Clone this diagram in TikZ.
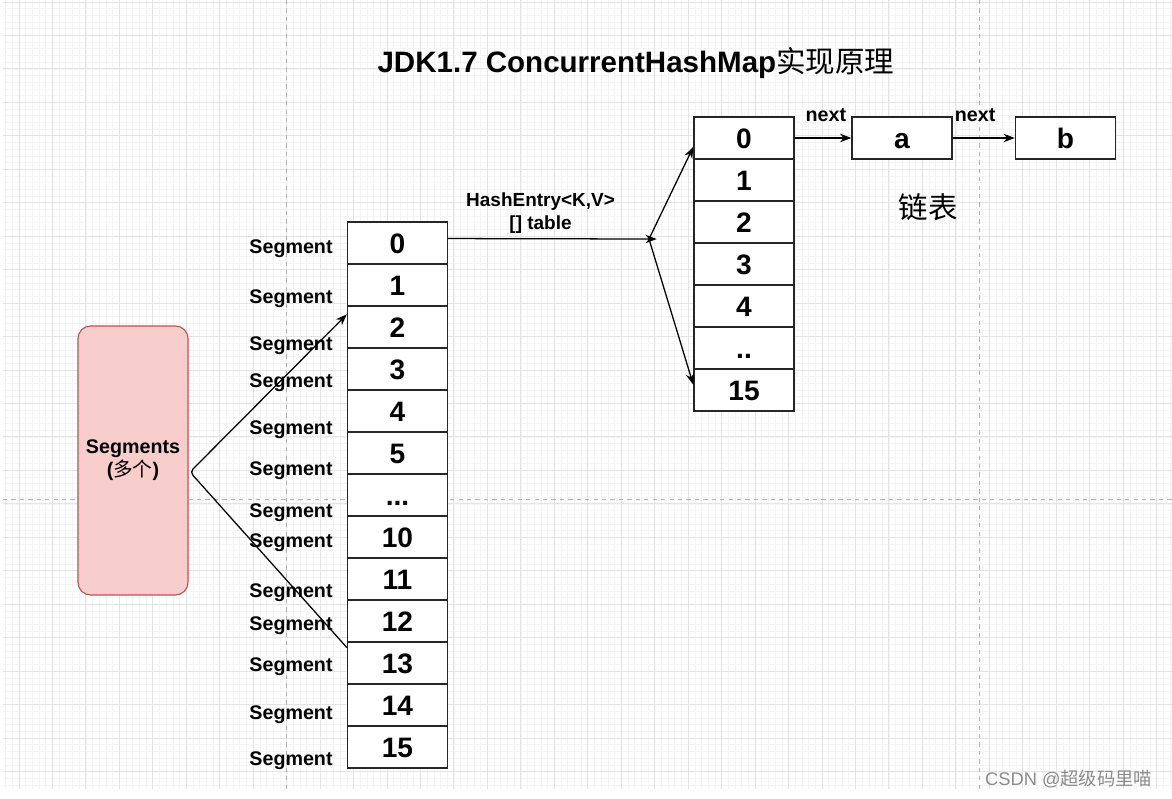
\documentclass[tikz,border=0pt]{standalone}
\usepackage{fontspec}
\setmainfont{Liberation Sans}
\newfontfamily\cjk{Noto Sans CJK SC}
\usetikzlibrary{arrows.meta}
\definecolor{segfill}{HTML}{F8CECC}
\definecolor{segline}{HTML}{B85450}
\definecolor{gridmajor}{HTML}{E4E4E4}
\definecolor{gridminor}{HTML}{F4F4F4}
\newcommand{\segdots}{...}
\newcommand{\entrydots}{..}
\tikzset{
  cell/.style={draw=black!85, line width=1pt, fill=white, minimum width=2.5cm,
    minimum height=1.05cm, inner sep=0pt, text height=14.3pt, text depth=0pt,
    font=\bfseries\fontsize{20}{20}\selectfont},
  seglabel/.style={font=\bfseries\fontsize{14}{14}\selectfont},
  nextlabel/.style={font=\bfseries\fontsize{14}{14}\selectfont, inner sep=0pt, above=11pt},
  conn/.style={->, line width=0.9pt},
}

\begin{document}
\begin{tikzpicture}[x=0.025cm, y=-0.025cm, >={Stealth[length=8pt,width=6pt]}]
\useasboundingbox (0,0) rectangle (1172,799);
\fill[white] (0,0) rectangle (1172,799);
% background grid
\foreach \k in {-2,...,172}
  \draw[gridminor, line width=0.5pt] ({19+\k*6.692},0) -- ({19+\k*6.692},789);
\foreach \k in {0,...,117}
  \draw[gridminor, line width=0.5pt] (3,{2+\k*6.692}) -- (1172,{2+\k*6.692});
\foreach \k in {0,...,34}
  \draw[gridmajor, line width=0.7pt] ({19+\k*33.46},0) -- ({19+\k*33.46},789);
\foreach \k in {0,...,23}
  \draw[gridmajor, line width=0.7pt] (3,{2+\k*33.46}) -- (1172,{2+\k*33.46});
\draw[black!30, dashed, line width=0.7pt] (286,0) -- (286,789) (979,0) -- (979,789) (3,499) -- (1172,499);

\node[font=\fontsize{21}{21}\selectfont] (title) at (636,63)
  {{\bfseries JDK1.7 ConcurrentHashMap}{\cjk 实现原理}};

% segment array
\foreach \t [count=\i from 0] in {0,1,2,3,4,5,\segdots,10,11,12,13,14,15}
  \node[cell] (segcell\i) at (397.5,{243+42*\i}) {\t};
\foreach \y [count=\i] in {249,299,346,383,430,471,513,543,593,626,667,715,761}
  \node[seglabel] (seglabel\i) at (291,\y) {Segment};

\node[draw=segline, fill=segfill, line width=0.8pt, rounded corners=9pt,
  minimum width=2.75cm, minimum height=6.725cm, align=center,
  font=\bfseries\fontsize{14}{16.3}\selectfont] (segs) at (133,460.5)
  {Segments\\({\cjk\mdseries 多个})};
\coordinate (segfork) at (190,472);
\draw[conn, rounded corners=3pt] (segcell10.163) -- (segfork) -- (segcell2.166);

% hash entry table
\foreach \t [count=\i from 0] in {0,1,2,3,4,\entrydots,15}
  \node[cell] (entrycell\i) at (744,{138+42*\i}) {\t};
\coordinate (hashfork) at (649,239);
\draw[conn, shorten >=-5.5pt] (segcell0.5) -- (hashfork)
  node[pos=0.46, above, inner sep=3pt, align=center,
    font=\bfseries\fontsize{13.5}{17}\selectfont] (tablelabel) {HashEntry<K,V>\\{[]} table};
\draw[conn] (hashfork) -- (entrycell0.190);
\draw[conn] (hashfork) -- (entrycell6.174);

% linked list
\node[cell] (lista) at (902,138) {a};
\node[cell] (listb) at (1065.5,138) {b};
\draw[conn] (entrycell0.east) -- (lista.west) node[nextlabel, pos=0.55] (nexta) {next};
\draw[conn] (lista.east) -- (listb.west) node[nextlabel, pos=0.36] (nextb) {next};
\node[font=\cjk\fontsize{21}{21}\selectfont] (listname) at (928,207) {链表};

\node[anchor=east, text=black!45, font=\fontsize{13}{13}\selectfont] (mark) at (1157,779)
  {CSDN @{\cjk 超级码里喵}};
\end{tikzpicture}
\end{document}
